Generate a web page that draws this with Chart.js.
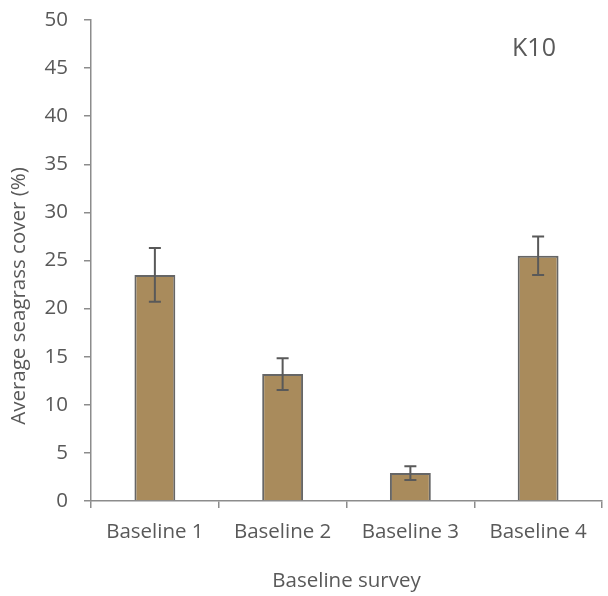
<!DOCTYPE html>
<html>
<head>
<meta charset="utf-8">
<script src="https://cdn.jsdelivr.net/npm/chart.js@4/dist/chart.umd.min.js"></script>
<style>
  html, body { margin: 0; padding: 0; background: #ffffff; }
  #wrap { width: 608px; height: 596px; }
</style>
</head>
<body>
<div id="wrap"><canvas id="c" width="608" height="596"></canvas></div>
<script>
// Survey categories and mean seagrass cover with standard errors
const surveys = ['Baseline 1', 'Baseline 2', 'Baseline 3', 'Baseline 4'];
const coverMean = [23.5, 13.2, 2.9, 25.5];
const coverError = [2.8, 1.65, 0.72, 2.0];
const yTicks = [0, 5, 10, 15, 20, 25, 30, 35, 40, 45, 50];
const siteLabel = 'K10';
const yTitle = 'Average seagrass cover (%)';
const xTitle = 'Baseline survey';

const FONT = 'Open Sans';
const SIZE = 20.5;
const TEXT = '#595959';
const AXIS = '#8c8c8c';

// Whisker drawing for the standard errors
const errorBars = {
  id: 'errorBars',
  afterDatasetsDraw(chart) {
    const { ctx, scales: { x, y } } = chart;
    ctx.save();
    ctx.strokeStyle = '#595959';
    ctx.lineWidth = 2;
    coverMean.forEach((v, i) => {
      const px = x.getPixelForValue(i);
      const top = y.getPixelForValue(v + coverError[i]);
      const bot = y.getPixelForValue(v - coverError[i]);
      const cap = 6;
      ctx.beginPath();
      ctx.moveTo(px, top); ctx.lineTo(px, bot);
      ctx.moveTo(px - cap, top); ctx.lineTo(px + cap, top);
      ctx.moveTo(px - cap, bot); ctx.lineTo(px + cap, bot);
      ctx.stroke();
    });
    ctx.restore();
  }
};

// Site name and the rotated value-axis title
const extraText = {
  id: 'extraText',
  afterDraw(chart) {
    const { ctx } = chart;
    ctx.save();
    ctx.fillStyle = TEXT;
    ctx.font = `25px "${FONT}"`;
    ctx.textAlign = 'center';
    ctx.textBaseline = 'middle';
    ctx.fillText(siteLabel, 534, 49);

    ctx.font = `${SIZE}px "${FONT}"`;
    ctx.translate(19, 296);
    ctx.rotate(-Math.PI / 2);
    ctx.fillText(yTitle, 0, 0);
    ctx.restore();
  }
};

new Chart(document.getElementById('c'), {
  type: 'bar',
  data: {
    labels: surveys,
    datasets: [{
      data: coverMean,
      backgroundColor: '#a98b5c',
      borderColor: '#666666',
      borderWidth: 2,
      categoryPercentage: 1,
      barPercentage: 0.32
    }]
  },
  options: {
    responsive: false,
    animation: false,
    events: [],
    layout: { padding: { left: 0, right: 6, top: 20, bottom: 0 } },
    plugins: { legend: { display: false }, tooltip: { enabled: false } },
    scales: {
      x: {
        offset: true,
        grid: { offset: true, drawOnChartArea: false, drawTicks: true, tickLength: 7, color: AXIS, lineWidth: 1.5 },
        border: { color: AXIS, width: 1.5 },
        ticks: { color: TEXT, font: { family: FONT, size: SIZE }, padding: 12, maxRotation: 0 },
        title: { display: true, text: xTitle, color: TEXT, font: { family: FONT, size: SIZE }, padding: { top: 0, bottom: 3 } },
        afterFit(s) { s.height = 95; s.paddingLeft = 0; s.paddingRight = 0; }
      },
      y: {
        min: 0, max: 50,
        afterBuildTicks(s) { s.ticks = yTicks.map(v => ({ value: v })); },
        grid: { drawOnChartArea: false, drawTicks: true, tickLength: 7, color: AXIS, lineWidth: 1.5 },
        border: { color: AXIS, width: 1.5 },
        ticks: { color: TEXT, font: { family: FONT, size: SIZE }, padding: 16 },
        afterFit(s) { s.width = 91; s.paddingTop = 0; s.paddingBottom = 0; }
      }
    }
  },
  plugins: [errorBars, extraText]
});
</script>
</body>
</html>
